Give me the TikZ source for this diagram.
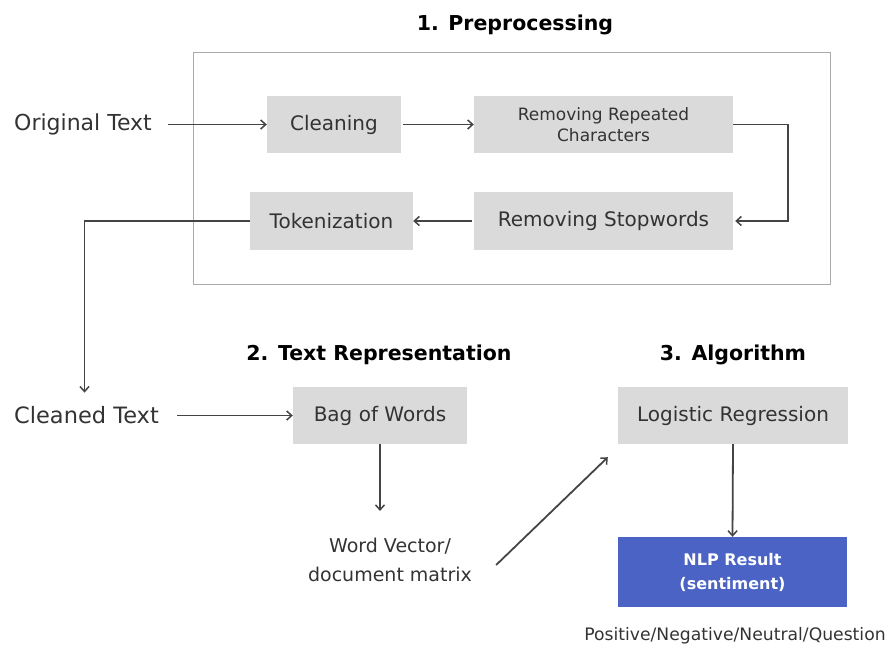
\documentclass[tikz,border=0pt]{standalone}
\usepackage{fontspec}
\setmainfont{DejaVu Sans}
\usetikzlibrary{arrows.meta,calc}
\definecolor{boxgray}{HTML}{DADADA}
\definecolor{linegray}{HTML}{444444}
\definecolor{txt}{HTML}{333333}
\definecolor{frame}{HTML}{AAAAAA}
\definecolor{nlpblue}{HTML}{4A63C5}
\tikzset{
  procbox/.style={fill=boxgray, draw=none, inner sep=0pt, align=center, text=txt, font=\fontsize{20}{24}\selectfont},
  plainlabel/.style={inner sep=0pt, text=txt, align=center, font=\fontsize{22}{29}\selectfont},
  sectitle/.style={inner sep=0pt, text=black, font=\bfseries\fontsize{20.5}{25}\selectfont},
  conn/.style={draw=linegray, line width=1.8pt, -{Straight Barb[length=5pt,width=9pt,line width=1.5pt]}},
}
\begin{document}
\begin{tikzpicture}[x=1pt,y=-1pt]
\useasboundingbox (0,0) rectangle (888,649);
% titles
\node[sectitle] (t1) at (515,25) {1. Preprocessing};
\node[sectitle] (t2) at (379,355) {2. Text Representation};
\node[sectitle] (t3) at (733,355) {3. Algorithm};
% frame
\node[draw=frame, line width=1pt, minimum width=637pt, minimum height=232pt, inner sep=0pt] (frame) at (511.5,168) {};
% boxes
\node[procbox, minimum width=134pt, minimum height=57pt] (clean) at (334,124.5) {Cleaning};
\node[procbox, minimum width=259pt, minimum height=57pt, font=\fontsize{17}{21}\selectfont] (rrc) at (603.5,124.5) {Removing Repeated\\Characters};
\node[procbox, minimum width=259pt, minimum height=58pt] (rs) at (603.5,221) {Removing Stopwords};
\node[procbox, minimum width=163pt, minimum height=58pt] (tok) at (331.5,221) {Tokenization};
\node[procbox, minimum width=174pt, minimum height=57pt] (bag) at (380,415.5) {Bag of Words};
\node[procbox, minimum width=230pt, minimum height=57pt] (lr) at (733,415.5) {Logistic Regression};
\node[procbox, fill=nlpblue, text=white, minimum width=229pt, minimum height=70pt, font=\bfseries\fontsize{16}{24}\selectfont] (nlp) at (732.5,572) {NLP Result\\(sentiment)};
% labels
\node[plainlabel, anchor=west] (orig) at (14,124.5) {Original Text};
\node[plainlabel, anchor=west, font=\fontsize{22.5}{29}\selectfont] (cleaned) at (14,415.5) {Cleaned Text};
\node[plainlabel, font=\fontsize{19}{29}\selectfont] (wv) at (390,560) {Word Vector/\\document matrix};
\node[inner sep=0pt, text=txt, font=\fontsize{17.2}{20}\selectfont] (res) at (735,636) {Positive/Negative/Neutral/Question};
% connectors
\draw[conn, shorten <=16pt] (orig.east) -- (clean.west);
\draw[conn, shorten <=2pt] (clean.east) -- (rrc.west);
\draw[conn, shorten >=2pt] (rrc.east) -- ++(55,0) |- (rs.east);
\draw[conn, shorten <=2pt] (rs.west) -- (tok.east);
\draw[conn, shorten >=14pt] (tok.west) -| ([xshift=-2pt]cleaned.north);
\draw[conn, shorten <=18pt] (cleaned.east) -- (bag.west);
\draw[conn, shorten >=27pt] (bag.south) -- (bag.south |- wv.north);
\draw[conn] ($(wv.east)+(24,5)$) -- ($(lr.south west)+(-10,13)$);
\draw[conn] (lr.south) -- (nlp.north);
\end{tikzpicture}
\end{document}
